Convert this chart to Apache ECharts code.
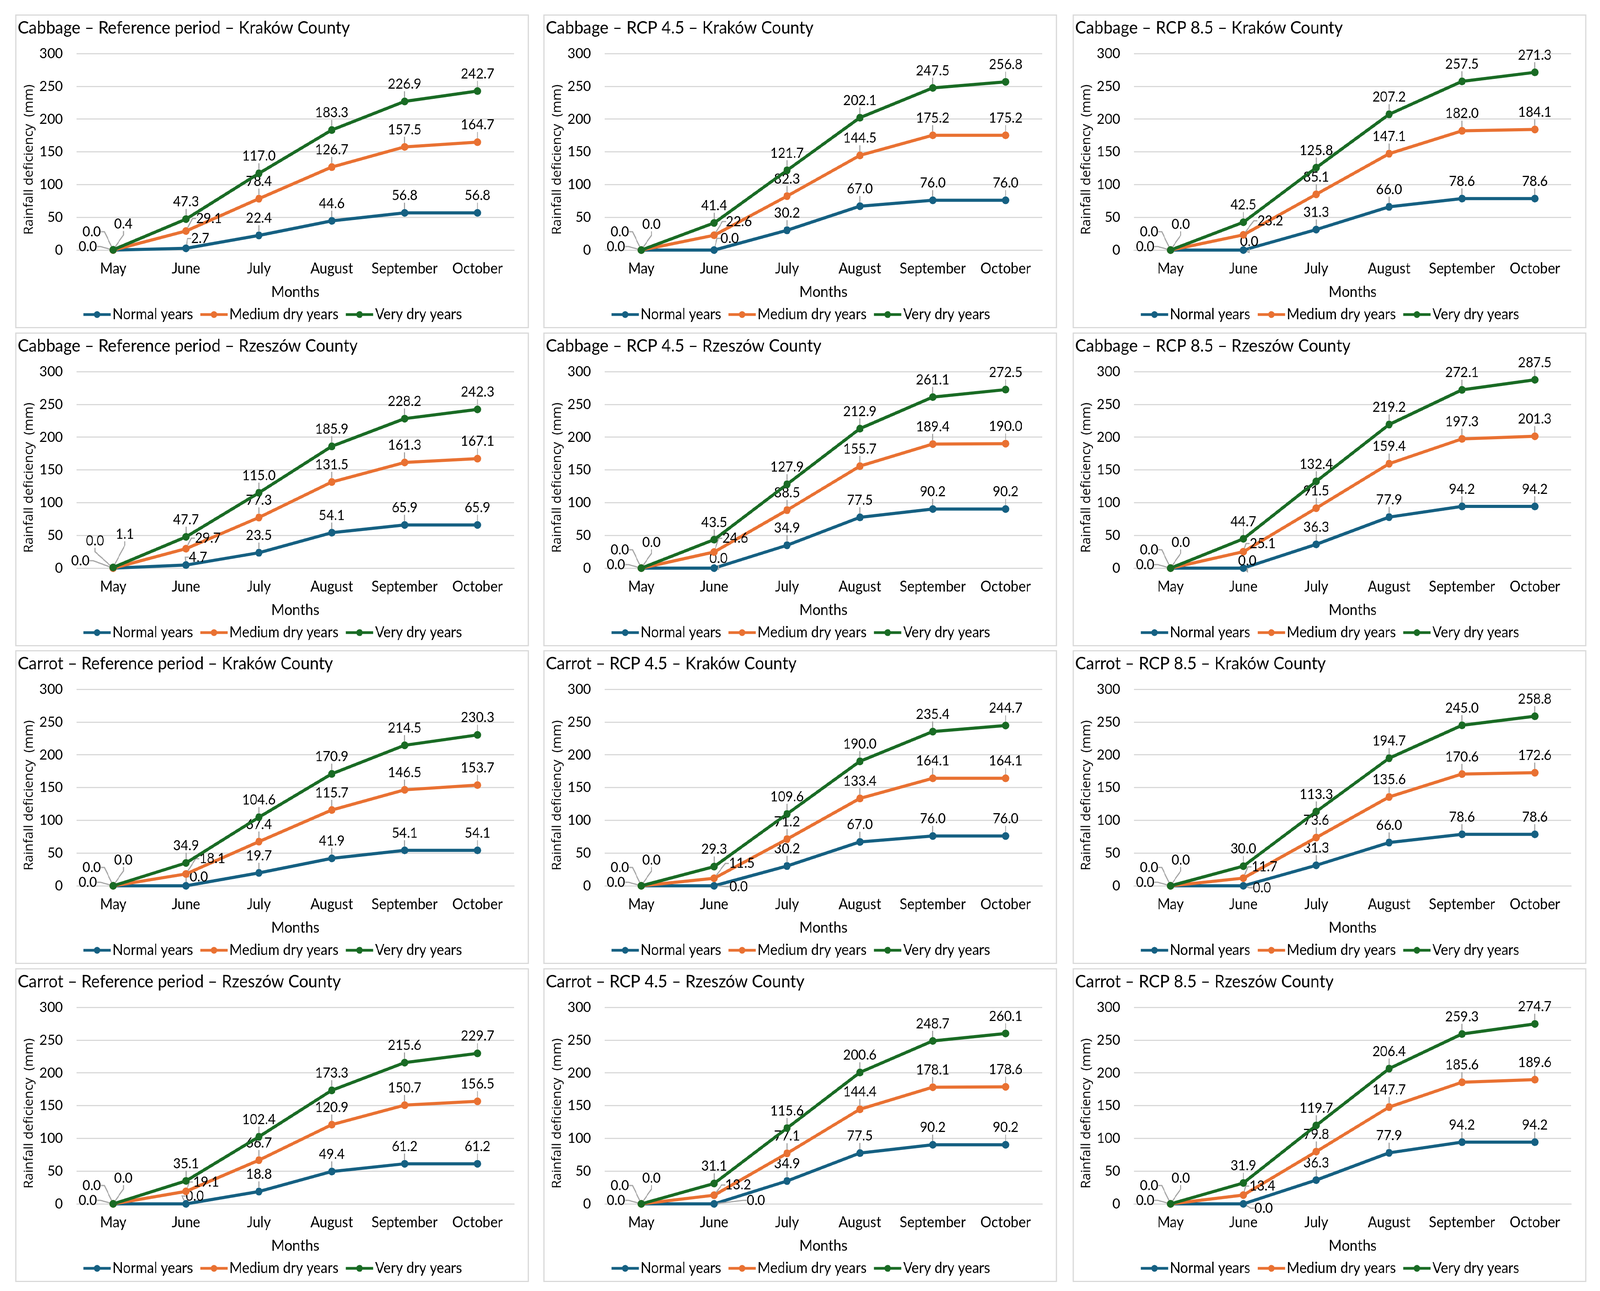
<!DOCTYPE html>
<html><head><meta charset="utf-8">
<script src="https://cdn.jsdelivr.net/npm/echarts@6/dist/echarts.min.js"></script>
<style>
html,body{margin:0;padding:0;background:#fff;overflow:hidden}
#stage{position:absolute;left:0;top:0;width:4399px;height:3304px;transform-origin:0 0;background:#fff}
.panel{position:absolute;width:1412px;height:803px;box-sizing:border-box;border:3px solid #D9D9D9;background:#fff}
</style></head><body>
<div id="stage"></div>
<script>
// ---------- DATA ----------
const months = ['May', 'June', 'July', 'August', 'September', 'October'];
const seriesNames = ['Normal years', 'Medium dry years', 'Very dry years'];
const titles = [
  'Cabbage – Reference period – Kraków County',
  'Cabbage – RCP 4.5 – Kraków County',
  'Cabbage – RCP 8.5 – Kraków County',
  'Cabbage – Reference period – Rzeszów County',
  'Cabbage – RCP 4.5 – Rzeszów County',
  'Cabbage – RCP 8.5 – Rzeszów County',
  'Carrot – Reference period – Kraków County',
  'Carrot – RCP 4.5 – Kraków County',
  'Carrot – RCP 8.5 – Kraków County',
  'Carrot – Reference period – Rzeszów County',
  'Carrot – RCP 4.5 – Rzeszów County',
  'Carrot – RCP 8.5 – Rzeszów County'
];
const normalYears = [
  [0.0, 2.7, 22.4, 44.6, 56.8, 56.8],
  [0.0, 0.0, 30.2, 67.0, 76.0, 76.0],
  [0.0, 0.0, 31.3, 66.0, 78.6, 78.6],
  [0.0, 4.7, 23.5, 54.1, 65.9, 65.9],
  [0.0, 0.0, 34.9, 77.5, 90.2, 90.2],
  [0.0, 0.0, 36.3, 77.9, 94.2, 94.2],
  [0.0, 0.0, 19.7, 41.9, 54.1, 54.1],
  [0.0, 0.0, 30.2, 67.0, 76.0, 76.0],
  [0.0, 0.0, 31.3, 66.0, 78.6, 78.6],
  [0.0, 0.0, 18.8, 49.4, 61.2, 61.2],
  [0.0, 0.0, 34.9, 77.5, 90.2, 90.2],
  [0.0, 0.0, 36.3, 77.9, 94.2, 94.2]
];
const mediumDryYears = [
  [0.0, 29.1, 78.4, 126.7, 157.5, 164.7],
  [0.0, 22.6, 82.3, 144.5, 175.2, 175.2],
  [0.0, 23.2, 85.1, 147.1, 182.0, 184.1],
  [0.0, 29.7, 77.3, 131.5, 161.3, 167.1],
  [0.0, 24.6, 88.5, 155.7, 189.4, 190.0],
  [0.0, 25.1, 91.5, 159.4, 197.3, 201.3],
  [0.0, 18.1, 67.4, 115.7, 146.5, 153.7],
  [0.0, 11.5, 71.2, 133.4, 164.1, 164.1],
  [0.0, 11.7, 73.6, 135.6, 170.6, 172.6],
  [0.0, 19.1, 66.7, 120.9, 150.7, 156.5],
  [0.0, 13.2, 77.1, 144.4, 178.1, 178.6],
  [0.0, 13.4, 79.8, 147.7, 185.6, 189.6]
];
const veryDryYears = [
  [0.4, 47.3, 117.0, 183.3, 226.9, 242.7],
  [0.0, 41.4, 121.7, 202.1, 247.5, 256.8],
  [0.0, 42.5, 125.8, 207.2, 257.5, 271.3],
  [1.1, 47.7, 115.0, 185.9, 228.2, 242.3],
  [0.0, 43.5, 127.9, 212.9, 261.1, 272.5],
  [0.0, 44.7, 132.4, 219.2, 272.1, 287.5],
  [0.0, 34.9, 104.6, 170.9, 214.5, 230.3],
  [0.0, 29.3, 109.6, 190.0, 235.4, 244.7],
  [0.0, 30.0, 113.3, 194.7, 245.0, 258.8],
  [0.0, 35.1, 102.4, 173.3, 215.6, 229.7],
  [0.0, 31.1, 115.6, 200.6, 248.7, 260.1],
  [0.0, 31.9, 119.7, 206.4, 259.3, 274.7]
];

// ---------- STYLE / LAYOUT ----------
const colors = ['#156082', '#E97132', '#196B24'];
const colLeft = [42, 1494, 2949];
const rowTop = [37, 851, 1664, 2478];
// label-centre nudges (px, relative to point) for manually placed Excel labels
const mayNudge = [[-70, -9], [-59, -47], [28, -66]];
const mayNudgePanel3 = [[-90, -19], [-50, -70], [32, -85]];
const juneNudge = [
  [[39, -25], [63, -32]], [[43, -30], [68, -35]], [[16, -22], [74, -36]],
  [[33, -20], [60, -27]], [[12, -25], [58, -35]], [[11, -19], [53, -21]],
  [[35, -23], [72, -39]], [[67, 2], [76, -38]], [[51, 5], [58, -29]],
  [[24, -20], [55, -24]], [[115, -9], [66, -26]], [[56, 11], [52, -23]]
];

function makeLayout(pi, si) {
  return function (p) {
    let off = null;
    if (p.dataIndex === 0) off = (pi === 3 ? mayNudgePanel3 : mayNudge)[si];
    else if (p.dataIndex === 1 && si < 2) off = juneNudge[pi][si];
    if (!off || !p.rect) return {};
    const cx = p.rect.x + p.rect.width / 2, cy = p.rect.y + p.rect.height / 2;
    return { x: cx + off[0], y: cy + off[1], align: 'center', verticalAlign: 'middle' };
  };
}

function buildOption(i) {
  const sets = [normalYears[i], mediumDryYears[i], veryDryYears[i]];
  return {
    animation: false,
    textStyle: { fontFamily: 'Lato' },
    title: {
      text: titles[i], left: 4, top: 9, padding: 0,
      textStyle: { fontFamily: 'Lato', fontSize: 45, fontWeight: 'normal', color: '#000' }
    },
    legend: {
      data: seriesNames, bottom: 8, left: 'center', itemWidth: 75, itemHeight: 22, itemGap: 17,
      lineStyle: { width: 7 },
      textStyle: { fontFamily: 'Lato', fontSize: 38, color: '#000' }
    },
    grid: { left: 166, top: 97, width: 1202, height: 503 },
    xAxis: {
      type: 'category', data: months, boundaryGap: true,
      name: 'Months', nameLocation: 'middle', nameGap: 88,
      nameTextStyle: { fontFamily: 'Lato', fontSize: 39, color: '#000' },
      axisLine: { lineStyle: { color: '#D9D9D9', width: 3 } },
      axisTick: { show: false },
      axisLabel: { interval: 0, fontFamily: 'Lato', fontSize: 38, color: '#000', margin: 29 }
    },
    yAxis: {
      type: 'value', min: 0, max: 300, interval: 50,
      name: 'Rainfall deficiency  (mm)', nameLocation: 'middle', nameGap: 112, nameRotate: 90,
      nameTextStyle: { fontFamily: 'Open Sans', fontSize: 34, color: '#000', padding: [0, 40, 0, 0] },
      axisLabel: { fontFamily: 'Lato', fontSize: 37, color: '#000', margin: 38 },
      splitLine: { lineStyle: { color: '#D9D9D9', width: 3 } },
      axisLine: { show: false }, axisTick: { show: false }
    },
    series: sets.map((d, s) => ({
      name: seriesNames[s], type: 'line', data: d,
      symbol: 'circle', symbolSize: 20,
      lineStyle: { width: 8, color: colors[s] },
      itemStyle: { color: colors[s] },
      z: 2 + s,
      label: {
        show: true, position: 'top', distance: 16,
        fontFamily: 'Lato', fontSize: 36, color: '#000',
        formatter: p => Number(p.value).toFixed(1)
      },
      labelLine: { show: true, showAbove: true, length2: 10, lineStyle: { color: '#A6A6A6', width: 3 } },
      labelLayout: makeLayout(i, s)
    }))
  };
}

const stage = document.getElementById('stage');
const sx = (window.innerWidth || 4399) / 4399;
const sy = (window.innerHeight || 3304) / 3304;
stage.style.transform = 'scale(' + sx + ',' + sy + ')';

for (let i = 0; i < 12; i++) {
  const div = document.createElement('div');
  div.className = 'panel';
  div.style.left = colLeft[i % 3] + 'px';
  div.style.top = rowTop[Math.floor(i / 3)] + 'px';
  stage.appendChild(div);
  const chart = echarts.init(div, null, { renderer: 'canvas' });
  chart.setOption(buildOption(i));
}
</script>
</body></html>
